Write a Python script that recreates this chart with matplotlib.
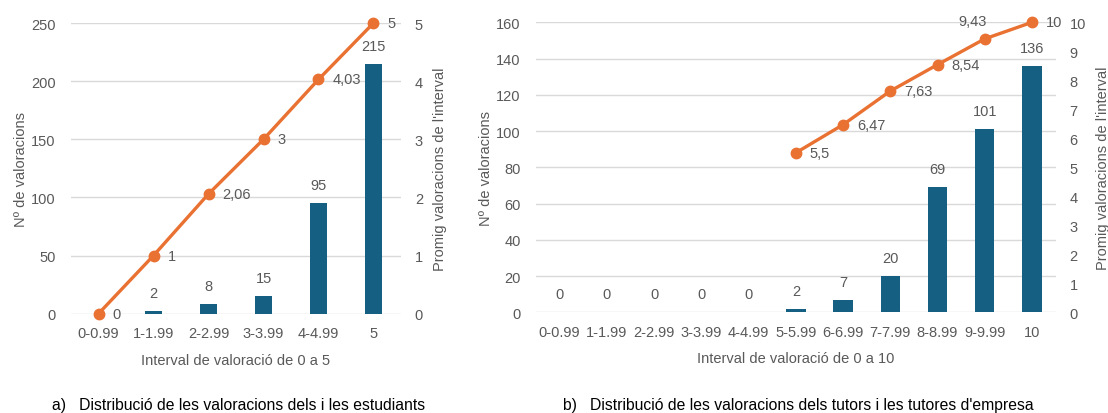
import matplotlib
matplotlib.use("Agg")
import matplotlib.pyplot as plt
import numpy as np

plt.rcParams['font.family'] = ['Liberation Sans', 'DejaVu Sans']

# Data
cats_a = ["0-0.99", "1-1.99", "2-2.99", "3-3.99", "4-4.99", "5"]
counts_a = [0, 2, 8, 15, 95, 215]
avg_a = [0, 1, 2.06, 3, 4.03, 5]

cats_b = ["0-0.99", "1-1.99", "2-2.99", "3-3.99", "4-4.99", "5-5.99",
          "6-6.99", "7-7.99", "8-8.99", "9-9.99", "10"]
counts_b = [0, 0, 0, 0, 0, 2, 7, 20, 69, 101, 136]
avg_b = [np.nan, np.nan, np.nan, np.nan, np.nan, 5.5, 6.47, 7.63, 8.54, 9.43, 10]

BAR = "#156082"
ORANGE = "#E97132"
TXT = "#595959"
GRID = "#D9D9D9"
FS = 10.5

fig = plt.figure(figsize=(11.08, 4.14), dpi=100)

def fmt(v):
    s = f"{v:g}"
    return s.replace(".", ",")

def panel(rect, cats, counts, avgs, ymax, ystep, y2max, width, xlabel,
          skip_zero_label=False, above_idx=()):
    ax = fig.add_axes(rect)
    x = np.arange(len(cats))
    ax.bar(x, counts, width=width, color=BAR, zorder=2)
    ax.set_xlim(-0.5, len(cats) - 0.5)
    ax.set_ylim(0, ymax)
    ax.set_yticks(np.arange(0, ymax + 1, ystep))
    ax.set_xticks(x)
    ax.set_xticklabels(cats)
    ax.grid(axis='y', color=GRID, lw=1, zorder=0)
    ax.set_axisbelow(True)
    for s in ax.spines.values():
        s.set_visible(False)
    ax.tick_params(length=0, colors=TXT, labelsize=FS, pad=11)
    ax.tick_params(axis='x', pad=9)
    ax.set_ylabel("Nº de valoracions", color=TXT, fontsize=FS, labelpad=2)
    ax.set_xlabel(xlabel, color=TXT, fontsize=FS, labelpad=9)
    for xi, c in zip(x, counts):
        if skip_zero_label and c == 0:
            continue
        ax.annotate(str(c), (xi, c), xytext=(0, 8), textcoords='offset points',
                    ha='center', va='bottom', color=TXT, fontsize=FS)
    ax2 = ax.twinx()
    ax2.set_ylim(0, y2max)
    ax2.set_yticks(np.arange(0, y2max + 1, 1))
    for s in ax2.spines.values():
        s.set_visible(False)
    ax2.tick_params(length=0, colors=TXT, labelsize=FS, pad=10)
    ax2.set_ylabel("Promig valoracions de l'interval", color=TXT, fontsize=FS, labelpad=7)
    ax2.plot(x, avgs, color=ORANGE, lw=2.4, marker='o', ms=7.5, zorder=3, clip_on=False)
    for i, (xi, v) in enumerate(zip(x, avgs)):
        if np.isnan(v):
            continue
        if i in above_idx:
            ax2.annotate(fmt(v), (xi, v), xytext=(-9, 8), textcoords='offset points',
                         ha='center', va='bottom', color=TXT, fontsize=FS)
        else:
            ax2.annotate(fmt(v), (xi, v), xytext=(10, 0), textcoords='offset points',
                         ha='left', va='center', color=TXT, fontsize=FS)
    return ax, ax2

panel([0.0641, 0.2399, 0.2978, 0.702], cats_a, counts_a, avg_a, 250, 50, 5, 0.315,
      "Interval de valoració de 0 a 5", skip_zero_label=True)
panel([0.4838, 0.2432, 0.4689, 0.7005], cats_b, counts_b, avg_b, 160, 20, 10, 0.41,
      "Interval de valoració de 0 a 10", above_idx=(9,))

fig.text(52 / 1108, 1 - 406 / 414, "a)   Distribució de les valoracions dels i les estudiants",
         fontsize=11.3, color='black', va='center', ha='left')
fig.text(563 / 1108, 1 - 406 / 414, "b)   Distribució de les valoracions dels tutors i les tutores d'empresa",
         fontsize=11.3, color='black', va='center', ha='left')

fig.savefig("out.png", dpi=100)
